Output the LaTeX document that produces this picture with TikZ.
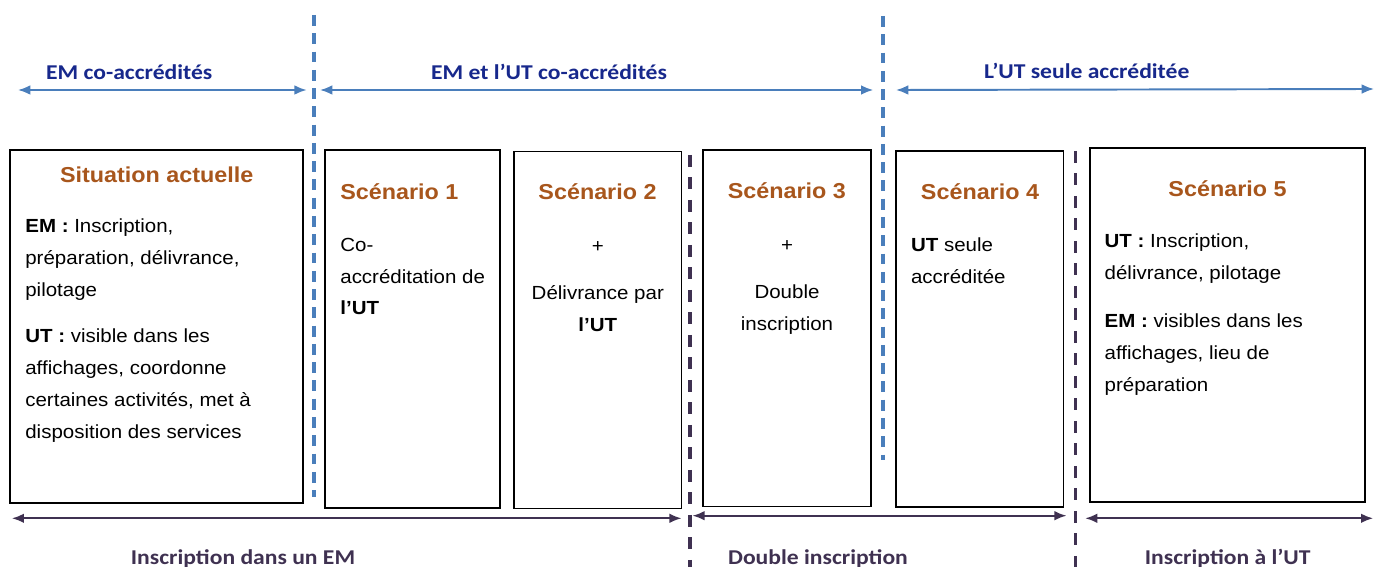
\documentclass[tikz,border=0pt]{standalone}
\usepackage{fontspec}
\setmainfont{Liberation Sans}[FakeStretch=1.08]
\newfontfamily\calibri{Carlito}[FakeStretch=1.12]
\usetikzlibrary{arrows.meta}

\definecolor{bleutrait}{HTML}{4A7EBB}
\definecolor{bleunuit}{HTML}{17288C}
\definecolor{rouille}{HTML}{A8561C}
\definecolor{prune}{HTML}{3F3151}

\begin{document}
\begin{tikzpicture}[x=0.02cm,y=-0.02cm,>={Latex[length=7pt,width=5.5pt]}]
 \useasboundingbox (0,0) rectangle (1375,567);
 \tikzstyle{boite} = [draw, line width=0.9pt, inner sep=0pt]
 \tikzstyle{titre} = [anchor=base, inner sep=0pt, text=rouille,
   font=\fontsize{12.3}{14}\selectfont\bfseries]
 \tikzstyle{corps} = [anchor=base west, inner sep=0pt, align=left,
   font=\fontsize{10.8}{18.2}\selectfont]
 \tikzstyle{corpsc} = [corps, anchor=base, align=center]
 \tikzstyle{haut} = [anchor=base, inner sep=0pt, text=bleunuit,
   font=\calibri\fontsize{12}{14}\selectfont\bfseries]
 \tikzstyle{bas} = [haut, text=prune]
 \tikzstyle{sepbleu} = [bleutrait, line width=2.2pt, dash pattern=on 6.2pt off 4.2pt]
 \tikzstyle{sepprune} = [prune, line width=1.9pt, dash pattern=on 6.8pt off 6pt]
 \tikzstyle{flbleu} = [<->, bleutrait, line width=1.1pt]
 \tikzstyle{flprune} = [<->, prune, line width=1.3pt]

 % les cases
 \node[boite, minimum width=5.86cm, minimum height=7.06cm] (sitact) at (156.5,326.7) {};
 \node[boite, minimum width=3.5cm, minimum height=7.16cm] (scen1) at (412.5,329.2) {};
 \node[boite, minimum width=3.35cm, minimum height=7.14cm] (scen2) at (597.8,330) {};
 \node[boite, minimum width=3.35cm, minimum height=7.13cm] (scen3) at (787,328.3) {};
 \node[boite, minimum width=3.35cm, minimum height=7.13cm] (scen4) at (979.7,329) {};
 \node[boite, minimum width=5.5cm, minimum height=7.07cm] (scen5) at (1227.5,325) {};

 \node[titre] (tsit) at (156.7,183) {Situation actuelle};
 \node[titre, anchor=base west] (tscen1) at (340,199.3) {Scénario 1};
 \node[titre] (tscen2) at (597.5,199.3) {Scénario 2};
 \node[titre] (tscen3) at (786.8,198.7) {Scénario 3};
 \node[titre] (tscen4) at (980,199.3) {Scénario 4};
 \node[titre] (tscen5) at (1227.5,196.7) {Scénario 5};

 % base = ligne du bas
 \node[corps] (bsit) at (25,438) {\textbf{EM :} Inscription,\\ préparation, délivrance,\\
   pilotage\\[8pt] \textbf{UT :} visible dans les\\ affichages, coordonne\\
   certaines activités, met à\\ disposition des services};
 \node[corps] (bscen1) at (340,315) {Co-\\ accréditation de\\ \textbf{l’UT}};
 \node[corpsc] (bscen2) at (597.8,331.7) {+\\[8.5pt] Délivrance par\\ \textbf{l’UT}};
 \node[corpsc] (bscen3) at (787,330.7) {+\\[8.5pt] Double\\ inscription};
 \node[corps] (bscen4) at (910.7,283.3) {\textbf{UT} seule\\ accréditée};
 \node[corps] (bscen5) at (1104.3,391.7) {\textbf{UT :} Inscription,\\ délivrance, pilotage\\[9pt]
   \textbf{EM :} visibles dans les\\ affichages, lieu de\\ préparation};

 % separations
 \coordinate (sb1h) at (314.3,15);
 \coordinate (sb1b) at (314.3,497);
 \coordinate (sb2h) at (882.7,16);
 \coordinate (sb2b) at (882.7,460);
 \coordinate (sp1h) at (690,155);
 \coordinate (sp1b) at (690,567);
 \coordinate (sp2h) at (1075.7,151);
 \coordinate (sp2b) at (1075.7,567);
 \draw[sepbleu] (sb1h) -- (sb1b);
 \draw[sepbleu] (sb2h) -- (sb2b);
 \draw[sepprune] (sp1h) -- (sp1b);
 \draw[sepprune] (sp2h) -- (sp2b);

 % fleches du haut
 \coordinate (fh1g) at (18,90);
 \coordinate (fh1d) at (306.7,90);
 \coordinate (fh2g) at (320,90);
 \coordinate (fh2d) at (873.3,90);
 \coordinate (fh3g) at (896,90);
 \coordinate (fh3d) at (1374,89);
 \draw[flbleu] (fh1g) -- (fh1d);
 \draw[flbleu] (fh2g) -- (fh2d);
 \draw[flbleu] (fh3g) -- (fh3d);
 \node[haut] (lh1) at (129.2,80) {EM co-accrédités};
 \node[haut] (lh2) at (549,80) {EM et l’UT co-accrédités};
 \node[haut] (lh3) at (1086.7,79) {L’UT seule accréditée};

 % fleches du bas
 \coordinate (fb1g) at (11.7,518.3);
 \coordinate (fb1d) at (681.7,518.3);
 \coordinate (fb2g) at (692.3,515.7);
 \coordinate (fb2d) at (1066.7,515.7);
 \coordinate (fb3g) at (1085,518.3);
 \coordinate (fb3d) at (1373.3,518.3);
 \draw[flprune] (fb1g) -- (fb1d);
 \draw[flprune] (fb2g) -- (fb2d);
 \draw[flprune] (fb3g) -- (fb3d);
 \node[bas] (lb1) at (243,564) {Inscription dans un EM};
 \node[bas] (lb2) at (818,564) {Double inscription};
 \node[bas] (lb3) at (1227.7,564) {Inscription à l’UT};
\end{tikzpicture}
\end{document}
